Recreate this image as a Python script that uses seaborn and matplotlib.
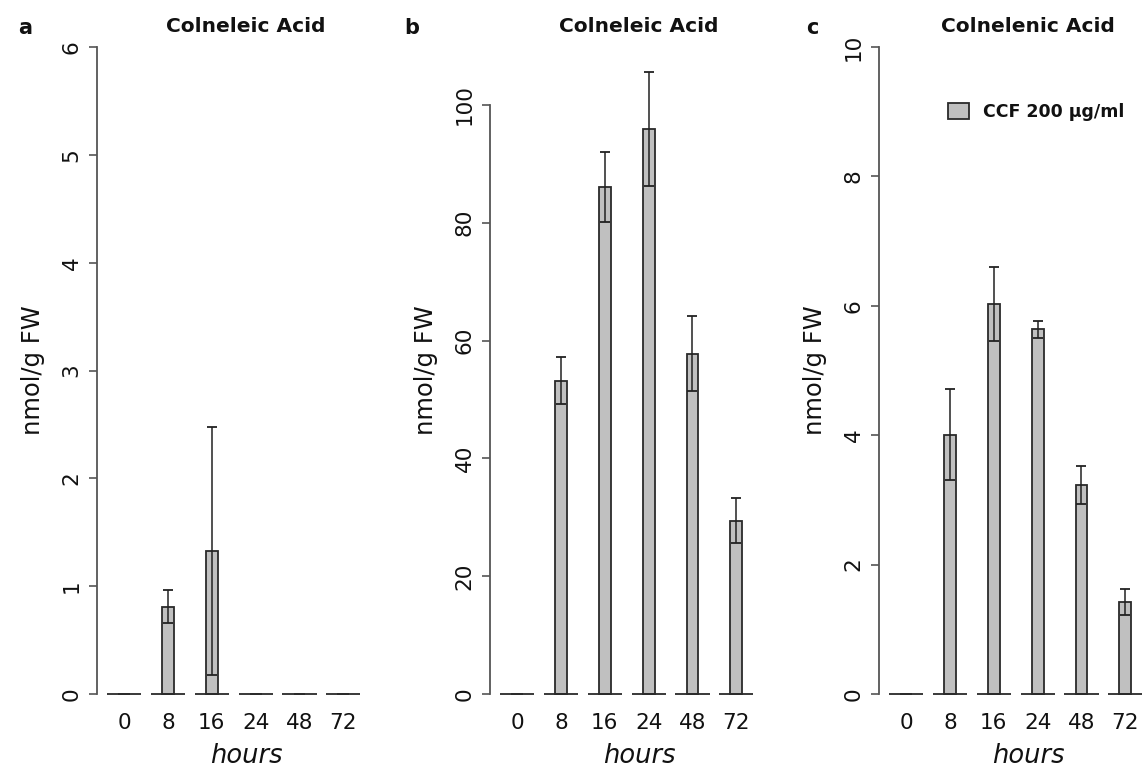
import matplotlib
matplotlib.use('Agg')

import pandas as pd
import matplotlib.pyplot as plt
import seaborn as sns
from matplotlib.patches import Patch

hours = ['0', '8', '16', '24', '48', '72']

# panel a: colneleic acid (low range)
vals_a = [0, 0.81, 1.33, 0, 0, 0]
sd_a = [0, 0.15, 1.15, 0, 0, 0]
# panel b: colneleic acid
vals_b = [0, 53.2, 86.1, 95.9, 57.8, 29.4]
sd_b = [0, 4.0, 6.0, 9.7, 6.3, 3.8]
# panel c: colnelenic acid
vals_c = [0, 4.01, 6.03, 5.64, 3.23, 1.42]
sd_c = [0, 0.70, 0.57, 0.13, 0.30, 0.20]

titles = ['Colneleic Acid', 'Colneleic Acid', 'Colnelenic Acid']
letters = ['a', 'b', 'c']
ymax = [6, 109.85, 10]
ytop_tick = [6, 100, 10]
ystep = [1, 20, 2]
legend_label = 'CCF 200 \u00b5g/ml'

sns.set_theme(style='white')
plt.rcParams['font.family'] = ['DejaVu Sans']
plt.rcParams['text.color'] = '#111111'
plt.rcParams['axes.labelcolor'] = '#111111'
plt.rcParams['xtick.labelcolor'] = '#111111'
plt.rcParams['ytick.labelcolor'] = '#111111'

W, H = 1148, 773
fig = plt.figure(figsize=(W / 100, H / 100), dpi=100)

bar_col = '#c0c0c0'
edge_col = '#2a2a2a'
axis_col = '#555555'

lefts = [97, 490, 879]
letter_x = [25, 412, 812]
panels = [(vals_a, sd_a), (vals_b, sd_b), (vals_c, sd_c)]

for i, (vals, sd) in enumerate(panels):
    ax = fig.add_axes([lefts[i] / W, 1 - 694 / H, 298 / W, (694 - 47) / H])
    df = pd.DataFrame({'hours': hours, 'value': vals})
    sns.barplot(data=df, x='hours', y='value', order=hours, color=bar_col,
                edgecolor=edge_col, linewidth=1.3, width=0.27, saturation=1, ax=ax)
    pos = range(len(hours))
    # zero-height neighbour bars of each group, drawn as a flat baseline
    ax.hlines([0] * len(hours), [p - 0.39 for p in pos], [p + 0.39 for p in pos],
              color=edge_col, linewidth=1.3, clip_on=False, zorder=3)
    has_err = [k for k in pos if sd[k] > 0]
    ax.errorbar(has_err, [vals[k] for k in has_err],
                yerr=[sd[k] for k in has_err], fmt='none', ecolor='#222222',
                elinewidth=1.1, capsize=3.5, capthick=1.3, zorder=4, clip_on=False)
    for p in ax.patches:
        p.set_clip_on(False)

    ax.set_xlim(-0.62, 6.18)
    ax.set_ylim(0, ymax[i])
    ticks = list(range(0, ytop_tick[i] + 1, ystep[i]))
    ax.set_yticks(ticks)
    ax.set_yticklabels([str(t) for t in ticks], rotation=90, va='center')
    for s in ['top', 'right', 'bottom']:
        ax.spines[s].set_visible(False)
    ax.spines['left'].set_bounds(0, ytop_tick[i])
    ax.spines['left'].set_color(axis_col)
    ax.spines['left'].set_linewidth(1.3)
    ax.tick_params(axis='y', length=6, width=1.2, color=axis_col, labelsize=15.5,
                   pad=5, left=True)
    ax.tick_params(axis='x', length=0, labelsize=15.5, pad=14)
    ax.set_xlabel('hours', fontsize=18.5, fontstyle='italic', labelpad=7)
    ax.set_ylabel('nmol/g FW', fontsize=17.5, labelpad=12)
    ax.set_title(titles[i], fontsize=14.5, fontweight='bold', pad=11)
    fig.text(letter_x[i] / W, 1 - 28 / H, letters[i], fontsize=15,
             fontweight='bold', ha='center', va='center')

    if i == 2:
        handle = Patch(facecolor=bar_col, edgecolor=edge_col, linewidth=1.3)
        ax.legend([handle], [legend_label], loc='upper left',
                  bbox_to_anchor=(948 / W, 1 - 103 / H),
                  bbox_transform=fig.transFigure, frameon=False,
                  prop={'size': 12.5, 'weight': 'bold'},
                  handlelength=1.2, handleheight=1.05, handletextpad=0.8,
                  borderpad=0, borderaxespad=0)

fig.savefig('out.png', dpi=100)
